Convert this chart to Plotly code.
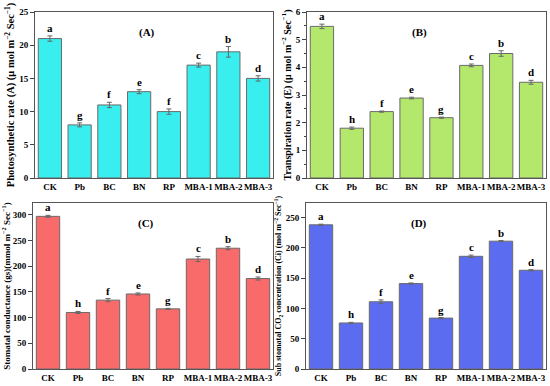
import plotly.graph_objects as go

categories = ["CK", "Pb", "BC", "BN", "RP", "MBA-1", "MBA-2", "MBA-3"]

photo_vals = [21.0, 8.0, 11.0, 13.0, 10.0, 17.0, 19.0, 15.0]
photo_err = [0.4, 0.3, 0.4, 0.3, 0.4, 0.3, 0.8, 0.4]
photo_letters = ["a", "g", "f", "e", "f", "c", "b", "d"]

trans_vals = [5.48, 1.80, 2.40, 2.89, 2.18, 4.07, 4.50, 3.46]
trans_err = [0.08, 0.04, 0.02, 0.03, 0.02, 0.05, 0.10, 0.07]
trans_letters = ["a", "h", "f", "e", "g", "c", "b", "d"]

stom_vals = [297, 110, 134, 146, 117, 214, 235, 176]
stom_err = [2, 2, 3, 2, 1, 5, 3, 3]
stom_letters = ["a", "h", "f", "e", "g", "c", "b", "d"]

ci_vals = [238, 76, 111, 141, 84, 186, 211, 163]
ci_err = [1, 1, 3, 1, 1, 2, 1, 1]
ci_letters = ["a", "h", "f", "e", "g", "c", "b", "d"]

W, H = 550, 386
FONT = "Liberation Serif"

panels = [
    dict(vals=photo_vals, err=photo_err, letters=photo_letters, color="#38EEEE",
         label="(A)", yrange=[0, 25], dtick=5,
         title="Photosynthetic rate (A) (μ mol m<sup>−2</sup> Sec<sup>−1</sup>)",
         tsize=10.5, px=(35, 273), py=(12, 178)),
    dict(vals=trans_vals, err=trans_err, letters=trans_letters, color="#B4E86C",
         label="(B)", yrange=[0, 6], dtick=1,
         title="Transpiration rate (E) (μ mol m<sup>−2</sup> Sec<sup>−1</sup>)",
         tsize=10, px=(307, 546), py=(12, 178)),
    dict(vals=stom_vals, err=stom_err, letters=stom_letters, color="#F96B6B",
         label="(C)", yrange=[0, 323], dtick=50,
         title="Stomatal conductance (gs)(mmol m<sup>−2</sup> Sec<sup>−1</sup>)",
         tsize=9, px=(33, 273), py=(203, 369)),
    dict(vals=ci_vals, err=ci_err, letters=ci_letters, color="#5C6CF0",
         label="(D)", yrange=[0, 274], dtick=50,
         title="Sub stomatal CO<sub>2</sub> concentration (Ci) (mol m<sup>−2</sup> Sec<sup>−1</sup>)",
         tsize=8, px=(306, 546), py=(203, 369)),
]

fig = go.Figure()
annotations = []
for i, p in enumerate(panels):
    n = "" if i == 0 else str(i + 1)
    xa, ya = "x" + n, "y" + n
    fig.add_trace(go.Bar(
        x=categories, y=p["vals"], xaxis=xa, yaxis=ya,
        marker=dict(color=p["color"], line=dict(color="#6a6a6a", width=1)),
        error_y=dict(type="data", array=p["err"], color="#666666", thickness=1, width=2.5),
        showlegend=False,
    ))
    xd = [p["px"][0] / W, p["px"][1] / W]
    yd = [1 - p["py"][1] / H, 1 - p["py"][0] / H]
    axis_common = dict(showline=True, linecolor="#555555", linewidth=1, mirror=True,
                       showgrid=False, zeroline=False)
    fig.layout["xaxis" + n] = dict(
        domain=xd, anchor=ya, **axis_common, ticks="", tickangle=0, automargin=False,
        tickfont=dict(family=FONT, size=9, color="black", weight="bold"),
    )
    fig.layout["yaxis" + n] = dict(
        domain=yd, anchor=xa, range=p["yrange"], dtick=p["dtick"], **axis_common,
        ticks="outside", ticklen=4, tickcolor="#444444", tickwidth=1, automargin=False,
        minor=dict(ticks="outside", ticklen=2, tickcolor="#444444", nticks=2),
        tickfont=dict(family=FONT, size=9, color="black", weight="bold"),
        title=dict(text=p["title"], standoff=2,
                   font=dict(family=FONT, size=p["tsize"], color="black", weight="bold")),
    )
    for c, v, e, l in zip(categories, p["vals"], p["err"], p["letters"]):
        annotations.append(dict(
            x=c, y=v + e, xref=xa, yref=ya, text=l, showarrow=False,
            yanchor="bottom", yshift=0,
            font=dict(family=FONT, size=11, color="black", weight="bold"),
        ))
    annotations.append(dict(
        x=0.47, y=0.93, xref=xa + " domain", yref=ya + " domain", text=p["label"],
        showarrow=False, font=dict(family=FONT, size=11, color="black", weight="bold"),
    ))

fig.update_layout(
    width=W, height=H, margin=dict(l=0, r=0, t=0, b=0),
    paper_bgcolor="white", plot_bgcolor="white",
    bargap=0.22, annotations=annotations,
)

fig.write_html("out.html", config={"displayModeBar": False},
               post_script="document.body.style.margin='0';document.body.style.overflow='hidden';")
